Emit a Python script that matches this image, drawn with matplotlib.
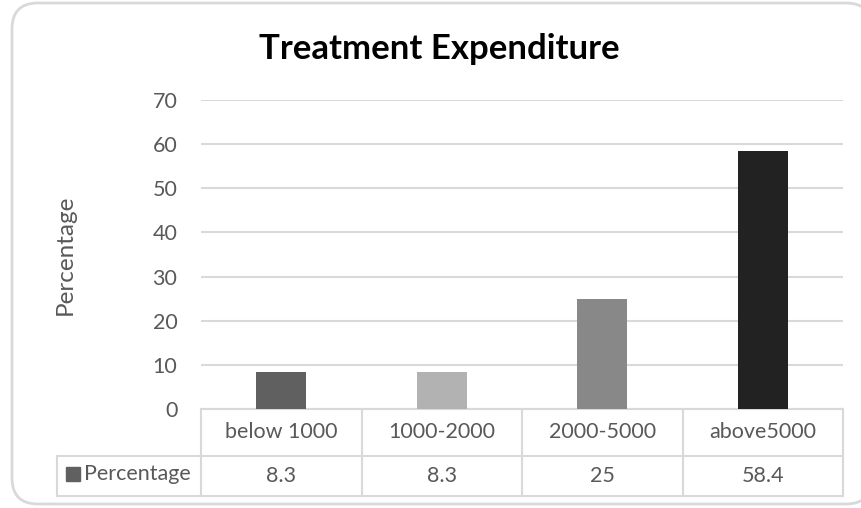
import matplotlib
matplotlib.use("Agg")
import matplotlib.pyplot as plt
from matplotlib.patches import FancyBboxPatch, Rectangle
from matplotlib.lines import Line2D
import matplotlib.transforms as mtransforms

categories = ["below 1000", "1000-2000", "2000-5000", "above5000"]
values = [8.3, 8.3, 25, 58.4]
series_name = "Percentage"
yticks = [0, 10, 20, 30, 40, 50, 60, 70]
bar_colors = ["#606060", "#b2b2b2", "#888888", "#222222"]
title = "Treatment Expenditure"
ylabel = "Percentage"

FONT = ["Lato", "DejaVu Sans"]
TXT = "#595959"
GRID = "#d9d9d9"
FS = 15.5

W, H = 861, 508
fig = plt.figure(figsize=(W / 100, H / 100), dpi=100)
fig.patch.set_facecolor("white")

def fx(px):
    return px / W

def fy(py):
    return 1 - py / H

# full-canvas backdrop holding the rounded chart-area border,
# which runs past the right edge of the canvas
bg = fig.add_axes([0, 0, 1, 1], zorder=-1)
bg.set_xlim(0, W)
bg.set_ylim(H, 0)
bg.axis("off")
bx0, bx1, by0, by1 = 12, 872, 3, 504
bg.add_patch(FancyBboxPatch((bx0, by0), bx1 - bx0, by1 - by0,
                            boxstyle="round,pad=0,rounding_size=26",
                            facecolor="white", edgecolor=GRID, linewidth=2))

left, right, top, bottom = 201, 843, 100, 409
ax = fig.add_axes([fx(left), fy(bottom), fx(right) - fx(left), fy(top) - fy(bottom)])
ax.set_xlim(-0.5, len(categories) - 0.5)
ax.set_ylim(0, 70)
ax.patch.set_alpha(0)
for s in ax.spines.values():
    s.set_visible(False)
ax.set_yticks(yticks)
ax.set_yticklabels([str(t) for t in yticks], fontsize=FS, color=TXT, family=FONT)
ax.tick_params(axis="y", length=0, pad=17)
ax.set_xticks([])
ax.yaxis.grid(True, color=GRID, linewidth=1.5)
ax.set_axisbelow(True)

x = list(range(len(categories)))
ax.bar(x, values, width=0.31, color=bar_colors, zorder=3)

ax.set_ylabel(ylabel, fontsize=17.5, color=TXT, family=FONT)
ax.yaxis.set_label_coords((76 - left) / (right - left), 0.5)
fig.text(fx(439), fy(59), title, ha="center", va="baseline", fontsize=25,
         fontweight="bold", family=FONT, color="black")

# data table below the plot area
ax_h = bottom - top
col_w = (right - left) / len(categories)
row1 = -(456 - bottom) / ax_h
row2 = -(496 - bottom) / ax_h
leg_left = -0.5 + (57 - left) / col_w
trans = mtransforms.blended_transform_factory(ax.transData, ax.transAxes)
lkw = dict(color=GRID, linewidth=1.5, transform=trans, clip_on=False)

ax.add_line(Line2D([-0.5, len(categories) - 0.5], [0, 0], **lkw))
ax.add_line(Line2D([leg_left, len(categories) - 0.5], [row1, row1], **lkw))
ax.add_line(Line2D([leg_left, len(categories) - 0.5], [row2, row2], **lkw))
ax.add_line(Line2D([leg_left, leg_left], [row1, row2], **lkw))
for b in [i - 0.5 for i in range(len(categories) + 1)]:
    ax.add_line(Line2D([b, b], [0, row2], **lkw))

for i, (c, v) in enumerate(zip(categories, values)):
    ax.text(i, row1 / 2, c, transform=trans, ha="center", va="center",
            fontsize=FS, color=TXT, family=FONT)
    ax.text(i, (row1 + row2) / 2, f"{v:g}", transform=trans, ha="center",
            va="center", fontsize=FS, color=TXT, family=FONT)

# legend key inside the row-header cell
key_w = 14 / col_w
key_h = 14 / ax_h
key_x = leg_left + 9 / col_w
mid = -(474 - bottom) / ax_h
ax.add_patch(Rectangle((key_x, mid - key_h / 2), key_w, key_h, transform=trans,
                       color=bar_colors[0], clip_on=False))
ax.text(key_x + key_w + 4 / col_w, mid, series_name, transform=trans, ha="left",
        va="center", fontsize=FS, color=TXT, family=FONT)

fig.savefig("out.png", dpi=100)
